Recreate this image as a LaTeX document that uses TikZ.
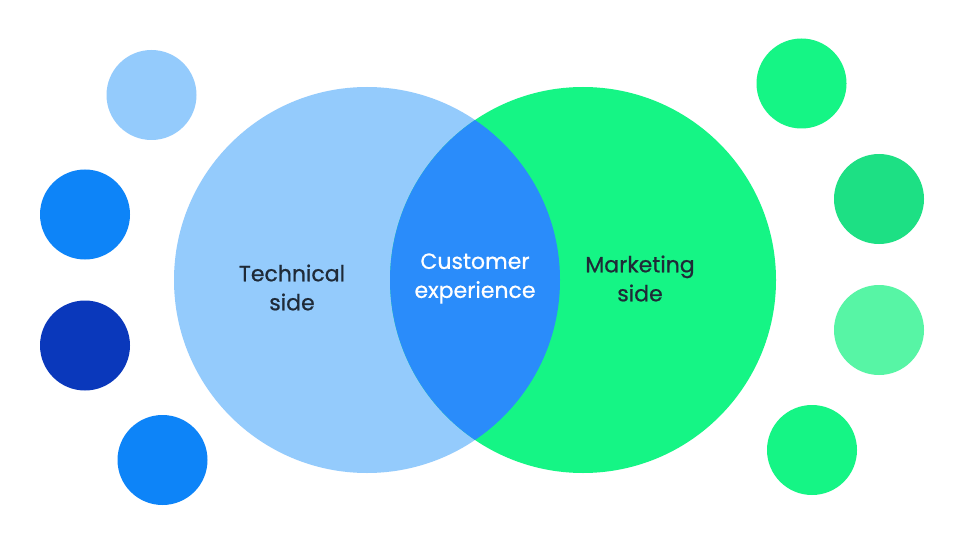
\documentclass[tikz,border=0pt]{standalone}
\usepackage{fontspec}
\setmainfont{Poppins}[FakeBold=0.7]
\definecolor{lightblue}{HTML}{94CBFC}
\definecolor{midblue}{HTML}{0D84F8}
\definecolor{darkblue}{HTML}{0A38BB}
\definecolor{lensblue}{HTML}{2A8CFA}
\definecolor{green1}{HTML}{15F585}
\definecolor{green2}{HTML}{1DE084}
\definecolor{green3}{HTML}{57F5A5}
\definecolor{txtdark}{HTML}{1F2A37}
\tikzset{
  dot/.style={circle, minimum size=90pt, inner sep=0pt, draw=none},
  big/.style={circle, minimum size=386pt, inner sep=0pt, draw=none},
  lbl/.style={align=center, font=\fontsize{22}{29}\selectfont, inner sep=0pt}
}
\begin{document}
\begin{tikzpicture}[x=1pt,y=-1pt]
\useasboundingbox[fill=white] (0,0) rectangle (960,540);
% big circles
\node[big, fill=lightblue] (tech) at (367,280) {};
\node[big, fill=green1] (mark) at (583,280) {};
\begin{scope}
  \clip (367,280) circle (193);
  \fill[lensblue] (583,280) circle (193);
\end{scope}
% small circles left
\node[dot, fill=lightblue] (l1) at (151.5,95) {};
\node[dot, fill=midblue] (l2) at (85,214.5) {};
\node[dot, fill=darkblue] (l3) at (85,345.5) {};
\node[dot, fill=midblue] (l4) at (162.5,460) {};
% small circles right
\node[dot, fill=green1] (r1) at (801.5,83.5) {};
\node[dot, fill=green2] (r2) at (879,199) {};
\node[dot, fill=green3] (r3) at (879,330) {};
\node[dot, fill=green1] (r4) at (812,450) {};
% labels
\node[lbl, text=txtdark] (t1) at (292,287.5) {Technical\\side};
\node[lbl, text=white] (t2) at (475,278.5) {Customer\\experience};
\node[lbl, text=txtdark] (t3) at (640,278.5) {Marketing\\side};
\end{tikzpicture}
\end{document}
